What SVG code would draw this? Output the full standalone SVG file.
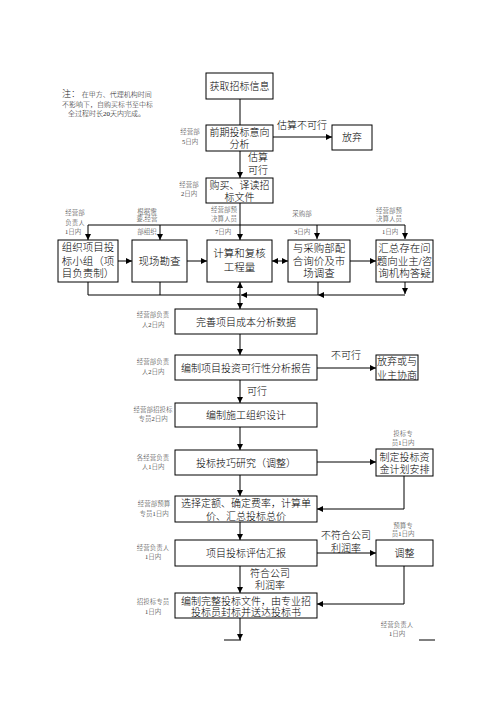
<svg xmlns="http://www.w3.org/2000/svg" width="496" height="702" viewBox="0 0 496 702">
<style>
text{font-family:"Liberation Serif","Noto Sans CJK SC",serif;fill:#000;text-anchor:middle;font-weight:300}
.b{fill:#fff;stroke:#000;stroke-width:1}
.t{font-size:10px}
.r{font-size:10.5px}
.s{font-size:6.5px;fill:#333}
.n{font-size:7px;text-anchor:start;fill:#222}
.c{fill:none;stroke:#000;stroke-width:1}
</style>
<defs>
<marker id="a" viewBox="0 0 10 10" refX="10" refY="5" markerWidth="6" markerHeight="6" markerUnits="userSpaceOnUse" orient="auto-start-reverse"><path d="M0,0L10,5L0,10z" fill="#000"/></marker>
</defs>
<rect width="496" height="702" fill="#fff"/>

<g id="note">
<text class="n" x="62" y="97"><tspan font-size="9px">注：</tspan> 在甲方、代理机构时间</text>
<text class="n" x="62" y="107">不影响下，自购买标书至中标</text>
<text class="n" x="68" y="116">全过程时长20天内完成。</text>
</g>

<g id="connectors">
<path class="c" d="M240,99V125"/>
<path class="c" d="M273,137H332" marker-end="url(#a)"/>
<path class="c" d="M240,151V178" marker-end="url(#a)"/>
<path class="c" d="M240,203V240" marker-end="url(#a)"/>
<path class="c" d="M88,225H405"/>
<path class="c" d="M88,225V240" marker-end="url(#a)"/>
<path class="c" d="M160,225V240" marker-end="url(#a)"/>
<path class="c" d="M317,225V239" marker-end="url(#a)"/>
<path class="c" d="M405,225V239" marker-end="url(#a)"/>
<path class="c" d="M118,261H132" marker-end="url(#a)"/>
<path class="c" d="M187,261H207" marker-end="url(#a)"/>
<path class="c" d="M272,261H288" marker-start="url(#a)" marker-end="url(#a)"/>
<path class="c" d="M350,261H376" marker-end="url(#a)"/>
<path class="c" d="M88,282V295H240"/>
<path class="c" d="M160,282V295"/>
<path class="c" d="M240,282V309" marker-start="url(#a)" marker-end="url(#a)"/>
<path class="c" d="M405,282V294" marker-end="url(#a)"/>
<path class="c" d="M405,295H318" marker-end="url(#a)"/>
<path class="c" d="M318,282V295"/>
<path class="c" d="M318,295H241" marker-end="url(#a)"/>
<path class="c" d="M240,334V355" marker-end="url(#a)"/>
<path class="c" d="M317,368H376" marker-end="url(#a)"/>
<path class="c" d="M240,380V403" marker-end="url(#a)"/>
<path class="c" d="M240,427V450" marker-end="url(#a)"/>
<path class="c" d="M317,462H376" marker-end="url(#a)"/>
<path class="c" d="M240,475V496" marker-end="url(#a)"/>
<path class="c" d="M404,476V509H317" marker-end="url(#a)"/>
<path class="c" d="M240,522V540" marker-end="url(#a)"/>
<path class="c" d="M317,553H376" marker-end="url(#a)"/>
<path class="c" d="M404,566V604H317" marker-end="url(#a)"/>
<path class="c" d="M240,566V593" marker-end="url(#a)"/>
<path class="c" d="M240,618V640" marker-end="url(#a)"/>
<path class="c" d="M224,640H241"/>
<path class="c" d="M419,640H435"/>
<text class="t" x="302" y="129">估算不可行</text>
<text class="t" x="258" y="161">估算</text>
<text class="t" x="258" y="174">可行</text>
<text class="t" x="346" y="359">不可行</text>
<text class="t" x="257" y="395">可行</text>
<text class="t" x="346" y="539">不符合公司</text>
<text class="t" x="346" y="552">利润率</text>
<text class="t" x="270" y="577">符合公司</text>
<text class="t" x="270" y="589">利润率</text>
</g>

<g id="n1"><rect class="b" x="206" y="73" width="67" height="26"/><text class="t" x="239.5" y="90">获取招标信息</text></g>
<g id="n2"><rect class="b" x="206" y="125" width="67" height="26"/><text class="t" x="239.5" y="136">前期投标意向</text><text class="t" x="239.5" y="148">分析</text>
<text class="s" x="190" y="134">经营部</text><text class="s" x="190" y="144">5日内</text></g>
<g id="n3"><rect class="b" x="332" y="125" width="40" height="25"/><text class="t" x="352" y="141">放弃</text></g>
<g id="n4"><rect class="b" x="206" y="178" width="67" height="25"/><text class="t" x="239.5" y="189">购买、译读招</text><text class="t" x="239.5" y="201">标文件</text>
<text class="s" x="189" y="187">经营部</text><text class="s" x="189" y="196">2日内</text></g>

<g id="n5"><rect class="b" x="58" y="240" width="60" height="42"/>
<text class="r" x="88" y="251">组织项目投</text><text class="r" x="88" y="265">标小组（项</text><text class="r" x="88" y="277">目负责制）</text>
<text class="s" x="75" y="215">经营部</text><text class="s" x="75" y="225">负责人</text><text class="s" x="73" y="234">1日内</text></g>
<g id="n6"><rect class="b" x="132" y="240" width="55" height="42"/><text class="r" x="159.5" y="265">现场勘查</text>
<text class="s" x="147" y="214">根据需</text><text class="s" x="147" y="221">要,经营</text><text class="s" x="147" y="234">部组织</text></g>
<g id="n7"><rect class="b" x="207" y="240" width="65" height="42"/><text class="r" x="239.5" y="257">计算和复核</text><text class="r" x="239.5" y="271">工程量</text>
<text class="s" x="224" y="212">经营部预</text><text class="s" x="224" y="221">决算人员</text><text class="s" x="223" y="234">7日内</text></g>
<g id="n8"><rect class="b" x="288" y="240" width="62" height="42"/>
<text class="r" x="319" y="252">与采购部配</text><text class="r" x="319" y="265">合询价及市</text><text class="r" x="319" y="277">场调查</text>
<text class="s" x="302" y="216">采购部</text><text class="s" x="302" y="234">3日内</text></g>
<g id="n9"><rect class="b" x="376" y="240" width="57" height="42"/>
<text class="r" x="404.5" y="252">汇总存在问</text><text class="r" x="404.5" y="265">题向业主/咨</text><text class="r" x="404.5" y="277">询机构答疑</text>
<text class="s" x="389" y="213">经营部预</text><text class="s" x="389" y="221">决算人员</text><text class="s" x="390" y="234">1日内</text></g>

<g id="n10"><rect class="b" x="175" y="309" width="142" height="25"/><text class="t" x="246" y="325.5">完善项目成本分析数据</text>
<text class="s" x="153" y="317">经营部负责</text><text class="s" x="153" y="327">人2日内</text></g>
<g id="n11"><rect class="b" x="175" y="355" width="142" height="25"/><text class="t" x="246" y="371.5">编制项目投资可行性分析报告</text>
<text class="s" x="153" y="364">经营部负责</text><text class="s" x="153" y="374">人2日内</text></g>
<g id="n12"><rect class="b" x="376" y="355" width="42" height="25"/><text class="t" x="397" y="365">放弃或与</text><text class="t" x="397" y="378.5">业主协商</text></g>
<g id="n13"><rect class="b" x="175" y="403" width="142" height="24"/><text class="t" x="246" y="418.5">编制施工组织设计</text>
<text class="s" x="153" y="412">经营部招投标</text><text class="s" x="153" y="421">专员2日内</text></g>
<g id="n14"><rect class="b" x="175" y="450" width="142" height="25"/><text class="t" x="246" y="466.5">投标技巧研究（调整）</text>
<text class="s" x="153" y="460">各经营负责</text><text class="s" x="153" y="469">人1日内</text></g>
<g id="n15"><rect class="b" x="376" y="449" width="57" height="27"/><text class="t" x="404.5" y="461">制定投标资</text><text class="t" x="404.5" y="473">金计划安排</text>
<text class="s" x="403" y="436">投标专</text><text class="s" x="403" y="445">员1日内</text></g>
<g id="n16"><rect class="b" x="175" y="496" width="142" height="26"/><text class="t" x="246" y="507">选择定额、确定费率，计算单</text><text class="t" x="246" y="520">价、汇总投标总价</text>
<text class="s" x="154" y="506">经营部预算</text><text class="s" x="154" y="516">专员1日内</text></g>
<g id="n17"><rect class="b" x="175" y="540" width="142" height="26"/><text class="t" x="246" y="557">项目投标评估汇报</text>
<text class="s" x="153" y="550">经营负责人</text><text class="s" x="153" y="559">1日内</text></g>
<g id="n18"><rect class="b" x="376" y="540" width="57" height="26"/><text class="t" x="404.5" y="557">调整</text>
<text class="s" x="403" y="528">预算专</text><text class="s" x="403" y="536">员1日内</text></g>
<g id="n19"><rect class="b" x="175" y="593" width="142" height="25"/><text class="t" x="246" y="604.5">编制完整投标文件，由专业招</text><text class="t" x="246" y="616">投标员封标并送达投标书</text>
<text class="s" x="153" y="604">招投标专员</text><text class="s" x="153" y="614">1日内</text></g>
<g id="n20"><text class="s" x="397" y="627">经营负责人</text><text class="s" x="397" y="636">1日内</text></g>
</svg>
